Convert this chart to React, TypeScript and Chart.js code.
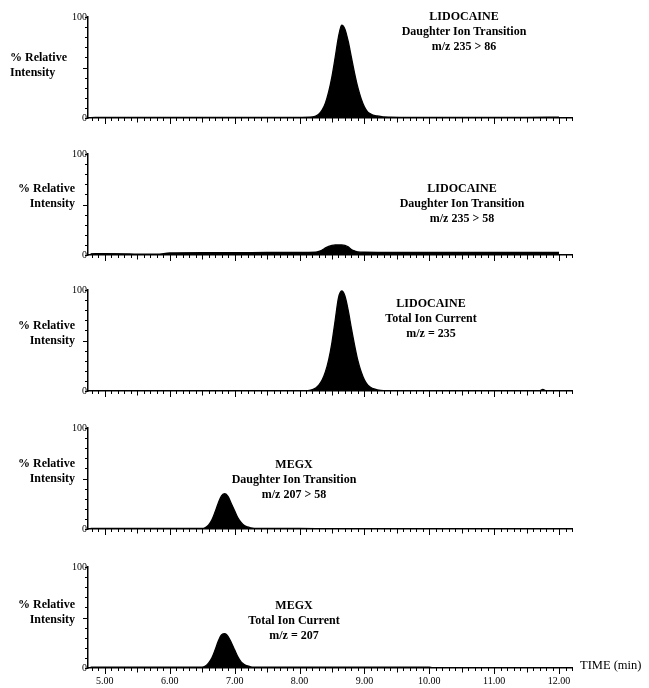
import React, { useEffect, useRef } from "react";
import { Chart, registerables } from "chart.js";

Chart.register(...registerables);

// ---------- axis ticks ----------
const timeTicks = [5, 6, 7, 8, 9, 10, 11, 12];
const timeTickLabels = ["5.00", "6.00", "7.00", "8.00", "9.00", "10.00", "11.00", "12.00"];
const yTickValues = [0, 100];
const yTickLabels = ["0", "100"];

// ---------- Panel 1: LIDOCAINE m/z 235 > 86 ----------
const lido86Time = [4.78, 5.0, 5.5, 6.0, 6.5, 7.0, 7.5, 8.0, 8.15,
  8.2, 8.25, 8.3, 8.35, 8.4, 8.45, 8.5, 8.55, 8.6, 8.65, 8.7, 8.75, 8.8, 8.85, 8.9, 8.95, 9.0, 9.05, 9.1, 9.15, 9.2, 9.25, 9.3,
  9.4, 9.6, 10.0, 10.5, 11.0, 11.5, 12.0];
const lido86Int = [0.4, 0.6, 0.5, 0.6, 0.5, 0.6, 0.5, 0.7, 0.8,
  1, 2, 4, 8, 15, 26, 41, 60, 80, 92, 88, 76, 60, 44, 30, 19, 11, 6, 4, 2.5, 2, 1.5, 1,
  0.8, 0.7, 0.6, 0.6, 0.6, 0.6, 0.8];

// ---------- Panel 2: LIDOCAINE m/z 235 > 58 ----------
const lido58Time = [4.78, 5.0, 5.3, 5.5, 5.8, 6.0, 6.5, 7.0, 7.5, 8.0, 8.25,
  8.3, 8.35, 8.4, 8.45, 8.5, 8.55, 8.6, 8.65, 8.7, 8.75, 8.8, 8.85, 8.9,
  9.0, 9.5, 10.0, 10.5, 11.0, 11.5, 12.0];
const lido58Int = [1.2, 1.4, 1.2, 0.8, 0.8, 2.0, 2.3, 2.3, 2.5, 2.5, 2.7,
  3.5, 5, 7, 8.5, 9.5, 10, 10, 10, 9.5, 8, 5.5, 4, 3,
  2.7, 2.5, 2.5, 2.5, 2.5, 2.5, 2.5];

// ---------- Panel 3: LIDOCAINE TIC m/z = 235 ----------
const lidoTicTime = [4.78, 5.0, 5.5, 6.0, 6.5, 7.0, 7.5, 8.0, 8.1,
  8.15, 8.2, 8.25, 8.3, 8.35, 8.4, 8.45, 8.5, 8.55, 8.6, 8.65, 8.7, 8.75, 8.8, 8.85, 8.9, 8.95, 9.0, 9.05, 9.1, 9.15, 9.2, 9.25,
  9.35, 9.6, 10.0, 10.5, 11.0, 11.5, 11.7, 11.75, 11.8, 12.0];
const lidoTicInt = [0.3, 0.3, 0.3, 0.3, 0.3, 0.3, 0.3, 0.3, 0.3,
  0.5, 1.5, 3, 6, 11, 19, 31, 48, 70, 92, 99, 94, 80, 62, 45, 30, 19, 11, 6, 3.5, 2, 1, 0.5,
  0.3, 0.3, 0.3, 0.3, 0.3, 0.3, 0.3, 1.5, 0.3, 0.3];

// ---------- Panel 4: MEGX m/z 207 > 58 ----------
const megx58Time = [4.78, 5.0, 5.5, 6.0, 6.45,
  6.5, 6.55, 6.6, 6.65, 6.7, 6.75, 6.8, 6.85, 6.9, 6.95, 7.0, 7.05, 7.1, 7.15, 7.2, 7.25, 7.3,
  7.4, 7.6, 8.0, 8.5, 9.0, 10.0, 11.0, 12.0];
const megx58Int = [0.5, 0.5, 0.5, 0.5, 0.5,
  0.5, 1.5, 4, 9, 17, 26, 33, 35, 32, 25, 18, 11, 6.5, 3.5, 2, 1, 0.5,
  0.5, 0.5, 0.5, 0.3, 0.3, 0.3, 0.3, 0.3];

// ---------- Panel 5: MEGX TIC m/z = 207 ----------
const megxTicTime = [4.78, 5.0, 5.5, 6.0, 6.45,
  6.5, 6.55, 6.6, 6.65, 6.7, 6.75, 6.8, 6.85, 6.9, 6.95, 7.0, 7.05, 7.1, 7.15, 7.2, 7.25, 7.3,
  7.4, 7.6, 8.0, 9.0, 10.0, 10.05, 11.0, 12.0];
const megxTicInt = [0.8, 0.8, 0.8, 0.8, 0.8,
  0.8, 2, 5, 10, 18, 27, 33, 34, 31, 25, 18, 11, 6, 3.5, 2, 1, 0.8,
  0.8, 0.8, 0.8, 0.8, 0.8, 0.3, 0.3, 0.3];

// ---------- Panel annotations ----------
const panelTitles = [
  ["LIDOCAINE", "Daughter Ion Transition", "m/z 235 > 86"],
  ["LIDOCAINE", "Daughter Ion Transition", "m/z 235 > 58"],
  ["LIDOCAINE", "Total Ion Current", "m/z = 235"],
  ["MEGX", "Daughter Ion Transition", "m/z 207 > 58"],
  ["MEGX", "Total Ion Current", "m/z = 207"],
];
const yAxisTitle = ["% Relative", "Intensity"];
const xAxisTitle = "TIME (min)";

const panelSeries = [
  [lido86Time, lido86Int],
  [lido58Time, lido58Int],
  [lidoTicTime, lidoTicInt],
  [megx58Time, megx58Int],
  [megxTicTime, megxTicInt],
];

// ---------- layout (styles only) ----------
const W = 649;
const PLOT_TOPS = [17, 154, 290, 428, 567];
const PLOT_H = 101;
const PAD_TOP = 10;
const TITLE_POS = [
  [464, 16], [462, 188], [431, 303], [294, 464], [294, 605],
];
const YLABEL_POS = [57, 188, 325, 463, 604];
const FONT = '"Liberation Serif", "Times New Roman", serif';

const tickPlugin = {
  id: "chromTicks",
  afterDraw(chart: any) {
    const { ctx, chartArea, scales } = chart;
    const xs = scales.x;
    const ys = scales.y;
    ctx.save();
    ctx.strokeStyle = "#000";
    ctx.lineWidth = 1;
    ctx.beginPath();
    for (let k = 48; k <= 122; k++) {
      const px = Math.round(xs.getPixelForValue(k / 10)) + 0.5;
      const len = k % 10 === 0 ? 6 : k % 5 === 0 ? 4.5 : 3;
      ctx.moveTo(px, chartArea.bottom);
      ctx.lineTo(px, chartArea.bottom + len);
    }
    for (let k = 0; k <= 100; k += 10) {
      const py = Math.round(ys.getPixelForValue(k)) + 0.5;
      const len = k === 50 ? 5 : 3;
      ctx.moveTo(chartArea.left - len, py);
      ctx.lineTo(chartArea.left, py);
    }
    ctx.stroke();
    ctx.restore();
  },
};

function Panel({ index }: { index: number }) {
  const ref = useRef<HTMLCanvasElement | null>(null);
  const isLast = index === panelSeries.length - 1;
  const xAxisH = isLast ? 20 : 25;
  const canvasH = PAD_TOP + PLOT_H + xAxisH;
  const top = PLOT_TOPS[index] - PAD_TOP;

  useEffect(() => {
    if (!ref.current) return;
    const [times, vals] = panelSeries[index];
    const chart = new Chart(ref.current, {
      type: "line",
      data: {
        datasets: [
          {
            data: times.map((t, i) => ({ x: t, y: vals[i] })),
            borderColor: "#000",
            backgroundColor: "#000",
            borderWidth: 1.3,
            pointRadius: 0,
            fill: "origin",
            cubicInterpolationMode: "monotone",
          },
        ],
      },
      options: {
        responsive: false,
        animation: false,
        devicePixelRatio: 1,
        events: [],
        layout: { padding: { top: PAD_TOP, left: 0, right: W - 572, bottom: 0 }, autoPadding: false },
        plugins: {
          legend: { display: false },
          tooltip: { enabled: false },
          title: { display: false },
        },
        scales: {
          x: {
            type: "linear",
            min: 4.74,
            max: 12.2,
            grid: { display: false, drawTicks: false },
            border: { display: true, color: "#000", width: 1.5 },
            afterBuildTicks: (s: any) => {
              s.ticks = timeTicks.map((v) => ({ value: v }));
            },
            afterFit: (s: any) => {
              s.height = xAxisH;
            },
            ticks: {
              display: isLast,
              autoSkip: false,
              maxRotation: 0,
              padding: 7,
              color: "#000",
              font: { family: FONT, size: 10 },
              callback: (_v: any, i: number) => timeTickLabels[i],
            },
          },
          y: {
            type: "linear",
            min: 0,
            max: 100,
            grid: { display: false, drawTicks: false },
            border: { display: true, color: "#000", width: 1.5 },
            afterBuildTicks: (s: any) => {
              s.ticks = yTickValues.map((v) => ({ value: v }));
            },
            afterFit: (s: any) => {
              s.width = 88;
            },
            ticks: {
              autoSkip: false,
              padding: 1,
              color: "#000",
              font: { family: FONT, size: 10 },
              callback: (_v: any, i: number) => yTickLabels[i],
            },
          },
        },
      } as any,
      plugins: [tickPlugin],
    });
    return () => chart.destroy();
  }, [index]);

  return (
    <canvas
      ref={ref}
      width={W}
      height={canvasH}
      style={{ position: "absolute", left: 0, top, width: W, height: canvasH }}
    />
  );
}

const textBase: React.CSSProperties = {
  position: "absolute",
  whiteSpace: "nowrap",
  fontFamily: FONT,
  fontWeight: "bold",
  fontSize: 12,
  lineHeight: "15px",
  color: "#000",
};

export default function App() {
  return (
    <div style={{ position: "fixed", left: 0, top: 0, width: W, height: 688, background: "#fff", overflow: "hidden" }}>
      {panelSeries.map((_, i) => (
        <Panel key={i} index={i} />
      ))}
      {panelTitles.map((lines, i) => (
        <div
          key={"t" + i}
          style={{
            ...textBase,
            left: TITLE_POS[i][0],
            top: TITLE_POS[i][1] - 7.5,
            transform: "translateX(-50%)",
            textAlign: "center",
          }}
        >
          {lines.map((l, j) => (
            <div key={j}>{l}</div>
          ))}
        </div>
      ))}
      {YLABEL_POS.map((y, i) =>
        i === 0 ? (
          <div key={"y" + i} style={{ ...textBase, left: 10, top: y - 7.5, textAlign: "left" }}>
            {yAxisTitle.map((l, j) => (
              <div key={j}>{l}</div>
            ))}
          </div>
        ) : (
          <div key={"y" + i} style={{ ...textBase, right: W - 75, top: y - 7.5, textAlign: "right" }}>
            {yAxisTitle.map((l, j) => (
              <div key={j}>{l}</div>
            ))}
          </div>
        )
      )}
      <div style={{ ...textBase, fontWeight: "normal", fontSize: 12.5, left: 580, top: 658 }}>{xAxisTitle}</div>
    </div>
  );
}
